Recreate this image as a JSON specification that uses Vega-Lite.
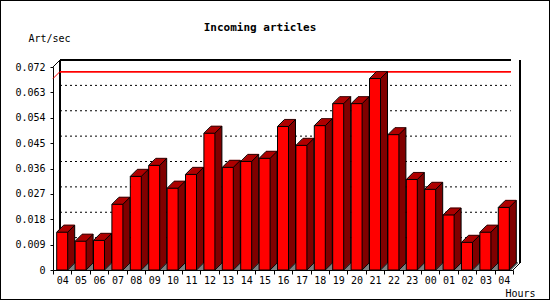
{
"$schema": "https://vega.github.io/schema/vega-lite/v6.json",
"width": 550, "height": 300,
"autosize": {"type": "none"},
"padding": 0,
"background": "white",
"title": {"text": "Incoming articles", "font": "DejaVu Sans Mono", "fontSize": 11, "fontWeight": "bold", "color": "black", "anchor": "middle", "frame": "group", "dx": -15, "offset": 0, "baseline": "alphabetic", "dy": 42},
"datasets": {
"bars": [
{"h":"04","v":0.0134},{"h":"05","v":0.0102},{"h":"06","v":0.0105},{"h":"07","v":0.0233},{"h":"08","v":0.0332},
{"h":"09","v":0.0371},{"h":"10","v":0.0290},{"h":"11","v":0.0339},{"h":"12","v":0.0485},{"h":"13","v":0.0364},
{"h":"14","v":0.0385},{"h":"15","v":0.0396},{"h":"16","v":0.0509},{"h":"17","v":0.0442},{"h":"18","v":0.0512},
{"h":"19","v":0.0590},{"h":"20","v":0.0590},{"h":"21","v":0.0679},{"h":"22","v":0.0480},{"h":"23","v":0.0321},
{"h":"00","v":0.0286},{"h":"01","v":0.0195},{"h":"02","v":0.0098},{"h":"03","v":0.0134},{"h":"04b","v":0.0222}
],
"grid": [{"g":0.009},{"g":0.018},{"g":0.027},{"g":0.036},{"g":0.045},{"g":0.054},{"g":0.063}]
},
"data": {"name": "bars"},
"layer": [
{"mark":{"type":"rule","color":"#808080","strokeWidth":1.5,"xOffset":-222,"x2Offset":228.8,"yOffset":-1},"encoding":{
"x":{"datum":"16","type":"nominal","scale":{"type":"band","paddingInner":0,"paddingOuter":0,"range":[53,513],"domain":["04","05","06","07","08","09","10","11","12","13","14","15","16","17","18","19","20","21","22","23","00","01","02","03","04b"]},"axis":{"title":"Hours","offset":-30,"labelAngle":0,"tickBand":"extent","tickSize":4,"labelPadding":1,"labelExpr":"slice(datum.label,0,2)","labelOverlap":false,"titleX":505,"titleY":26,"titleAlign":"left","titleBaseline":"alphabetic"}},
"x2":{"datum":"16"},
"y":{"datum":0,"type":"quantitative","scale":{"domain":[0,0.072],"nice":false,"zero":true,"range":[270,67]},"axis":{"title":"Art/sec","offset":-53,"values":[0,0.009,0.018,0.027,0.036,0.045,0.054,0.063,0.072],"tickCount":20,"format":".3~f","tickSize":3,"labelPadding":5,"labelOverlap":false,"titleAngle":0,"titleX":-25,"titleY":41,"titleAlign":"left","titleBaseline":"alphabetic"}}}},
{"mark":{"type":"rule","color":"#808080","strokeWidth":1.5,"xOffset":-221,"x2Offset":229.8,"yOffset":-2},"encoding":{"x":{"datum":"16","type":"nominal"},"x2":{"datum":"16"},"y":{"datum":0,"type":"quantitative"}}},
{"mark":{"type":"rule","color":"#808080","strokeWidth":1.5,"xOffset":-220,"x2Offset":230.8,"yOffset":-3},"encoding":{"x":{"datum":"16","type":"nominal"},"x2":{"datum":"16"},"y":{"datum":0,"type":"quantitative"}}},
{"mark":{"type":"rule","color":"#808080","strokeWidth":1.5,"xOffset":-219,"x2Offset":231.8,"yOffset":-4},"encoding":{"x":{"datum":"16","type":"nominal"},"x2":{"datum":"16"},"y":{"datum":0,"type":"quantitative"}}},
{"mark":{"type":"rule","color":"#808080","strokeWidth":1.5,"xOffset":-218,"x2Offset":232.8,"yOffset":-5},"encoding":{"x":{"datum":"16","type":"nominal"},"x2":{"datum":"16"},"y":{"datum":0,"type":"quantitative"}}},
{"mark":{"type":"rule","color":"#808080","strokeWidth":1.5,"xOffset":-217,"x2Offset":233.8,"yOffset":-6},"encoding":{"x":{"datum":"16","type":"nominal"},"x2":{"datum":"16"},"y":{"datum":0,"type":"quantitative"}}},
{"mark":{"type":"rule","color":"#808080","strokeWidth":1.5,"xOffset":-216,"x2Offset":234.8,"yOffset":-7},"encoding":{"x":{"datum":"16","type":"nominal"},"x2":{"datum":"16"},"y":{"datum":0,"type":"quantitative"}}},
{"mark":{"type":"rule","color":"black","xOffset":-223,"x2Offset":227.8,"yOffset":-7},"encoding":{"x":{"datum":"16","type":"nominal"},"x2":{"datum":"16"},"y":{"datum":0.072,"type":"quantitative"}}},
{"mark":{"type":"rule","color":"black","xOffset":-2.2,"yOffset":-7,"y2Offset":-7},"encoding":{"x":{"datum":"04","type":"nominal"},"y":{"datum":0,"type":"quantitative"},"y2":{"datum":0.072}}},
{"mark":{"type":"rule","color":"black","xOffset":16.2,"yOffset":-7,"y2Offset":-7},"encoding":{"x":{"datum":"04b","type":"nominal"},"y":{"datum":0,"type":"quantitative"},"y2":{"datum":0.072}}},
{"transform":[{"filter":"datum.h == '04'"}],"mark":{"type":"rule","color":"black","xOffset":-9.2,"x2Offset":-2.2,"y2Offset":-7},"encoding":{"x":{"field":"h","type":"nominal","sort":null},"x2":{"field":"h"},"y":{"datum":0.072,"type":"quantitative"},"y2":{"datum":0.072}}},
{"transform":[{"filter":"datum.h == '04b'"}],"mark":{"type":"rule","color":"black","xOffset":9.2,"x2Offset":16.2,"y2Offset":-7},"encoding":{"x":{"field":"h","type":"nominal","sort":null},"x2":{"field":"h"},"y":{"datum":0,"type":"quantitative"},"y2":{"datum":0}}},
{"data":{"name":"grid"},"mark":{"type":"rule","color":"black","strokeDash":[2,3],"xOffset":-223,"x2Offset":227.8,"yOffset":-7},"encoding":{"x":{"datum":"16","type":"nominal"},"x2":{"datum":"16"},"y":{"field":"g","type":"quantitative"}}},
{"transform":[{"joinaggregate":[{"op":"max","field":"v","as":"mx"}]}],"mark":{"type":"rule","color":"#ff0000","xOffset":-223,"x2Offset":227.8,"yOffset":-7},"encoding":{"x":{"datum":"16","type":"nominal"},"x2":{"datum":"16"},"y":{"field":"mx","type":"quantitative"}}},
{"transform":[{"joinaggregate":[{"op":"max","field":"v","as":"mx"}]},{"filter":"datum.h == '04'"}],"mark":{"type":"rule","color":"#ff0000","xOffset":-9.2,"x2Offset":-2.2,"y2Offset":-7},"encoding":{"x":{"field":"h","type":"nominal","sort":null},"x2":{"field":"h"},"y":{"field":"mx","type":"quantitative"},"y2":{"field":"mx"}}},
{"mark":{"type":"bar","width":11,"color":"#800000","xOffset":7,"yOffset":-7,"y2Offset":-7},"encoding":{"x":{"field":"h","type":"nominal","sort":null},"y":{"field":"v","type":"quantitative"},"y2":{"datum":0}}},
{"mark":{"type":"bar","width":11,"color":"#800000","xOffset":6,"yOffset":-6,"y2Offset":-6},"encoding":{"x":{"field":"h","type":"nominal","sort":null},"y":{"field":"v","type":"quantitative"},"y2":{"datum":0}}},
{"mark":{"type":"bar","width":11,"color":"#800000","xOffset":5,"yOffset":-5,"y2Offset":-5},"encoding":{"x":{"field":"h","type":"nominal","sort":null},"y":{"field":"v","type":"quantitative"},"y2":{"datum":0}}},
{"mark":{"type":"bar","width":11,"color":"#800000","xOffset":4,"yOffset":-4,"y2Offset":-4},"encoding":{"x":{"field":"h","type":"nominal","sort":null},"y":{"field":"v","type":"quantitative"},"y2":{"datum":0}}},
{"mark":{"type":"bar","width":11,"color":"#800000","xOffset":3,"yOffset":-3,"y2Offset":-3},"encoding":{"x":{"field":"h","type":"nominal","sort":null},"y":{"field":"v","type":"quantitative"},"y2":{"datum":0}}},
{"mark":{"type":"bar","width":11,"color":"#800000","xOffset":2,"yOffset":-2,"y2Offset":-2},"encoding":{"x":{"field":"h","type":"nominal","sort":null},"y":{"field":"v","type":"quantitative"},"y2":{"datum":0}}},
{"mark":{"type":"bar","width":11,"color":"#800000","xOffset":1,"yOffset":-1,"y2Offset":-1},"encoding":{"x":{"field":"h","type":"nominal","sort":null},"y":{"field":"v","type":"quantitative"},"y2":{"datum":0}}},
{"mark":{"type":"tick","size":11,"thickness":1.2,"color":"#c00000","xOffset":1,"yOffset":-1},"encoding":{"x":{"field":"h","type":"nominal","sort":null},"y":{"field":"v","type":"quantitative"}}},
{"mark":{"type":"tick","size":11,"thickness":1.2,"color":"#c00000","xOffset":2,"yOffset":-2},"encoding":{"x":{"field":"h","type":"nominal","sort":null},"y":{"field":"v","type":"quantitative"}}},
{"mark":{"type":"tick","size":11,"thickness":1.2,"color":"#c00000","xOffset":3,"yOffset":-3},"encoding":{"x":{"field":"h","type":"nominal","sort":null},"y":{"field":"v","type":"quantitative"}}},
{"mark":{"type":"tick","size":11,"thickness":1.2,"color":"#c00000","xOffset":4,"yOffset":-4},"encoding":{"x":{"field":"h","type":"nominal","sort":null},"y":{"field":"v","type":"quantitative"}}},
{"mark":{"type":"tick","size":11,"thickness":1.2,"color":"#c00000","xOffset":5,"yOffset":-5},"encoding":{"x":{"field":"h","type":"nominal","sort":null},"y":{"field":"v","type":"quantitative"}}},
{"mark":{"type":"tick","size":11,"thickness":1.2,"color":"#c00000","xOffset":6,"yOffset":-6},"encoding":{"x":{"field":"h","type":"nominal","sort":null},"y":{"field":"v","type":"quantitative"}}},
{"mark":{"type":"tick","size":11,"thickness":1.2,"color":"#c00000","xOffset":7,"yOffset":-7},"encoding":{"x":{"field":"h","type":"nominal","sort":null},"y":{"field":"v","type":"quantitative"}}},
{"mark":{"type":"bar","width":11,"color":"#ff0000","stroke":"black","strokeWidth":1},"encoding":{"x":{"field":"h","type":"nominal","sort":null},"y":{"field":"v","type":"quantitative"},"y2":{"datum":0}}},
{"mark":{"type":"tick","size":11,"thickness":1,"color":"black","xOffset":7,"yOffset":-7},"encoding":{"x":{"field":"h","type":"nominal","sort":null},"y":{"field":"v","type":"quantitative"}}},
{"mark":{"type":"rule","color":"black","xOffset":12.5,"yOffset":-7,"y2Offset":-7},"encoding":{"x":{"field":"h","type":"nominal","sort":null},"y":{"field":"v","type":"quantitative"},"y2":{"datum":0}}},
{"mark":{"type":"rule","color":"black","xOffset":5.5,"x2Offset":12.5,"y2Offset":-7},"encoding":{"x":{"field":"h","type":"nominal","sort":null},"x2":{"field":"h"},"y":{"field":"v","type":"quantitative"},"y2":{"field":"v"}}},
{"mark":{"type":"rule","color":"black","xOffset":-5.5,"x2Offset":1.5,"y2Offset":-7},"encoding":{"x":{"field":"h","type":"nominal","sort":null},"x2":{"field":"h"},"y":{"field":"v","type":"quantitative"},"y2":{"field":"v"}}},
{"mark":{"type":"rule","color":"black","xOffset":5.5,"x2Offset":12.5,"y2Offset":-7},"encoding":{"x":{"field":"h","type":"nominal","sort":null},"x2":{"field":"h"},"y":{"datum":0,"type":"quantitative"},"y2":{"datum":0}}}
],
"config": {
"view": {"stroke": "black", "strokeWidth": 2},
"font": "DejaVu Sans Mono",
"axis": {"labelFont":"DejaVu Sans Mono","labelFontSize":10,"labelColor":"black","domainColor":"black","tickColor":"black","titleFont":"DejaVu Sans Mono","titleFontSize":10,"titleFontWeight":"normal","titleColor":"black","grid":false,"labelOverlap":false}
}
}
